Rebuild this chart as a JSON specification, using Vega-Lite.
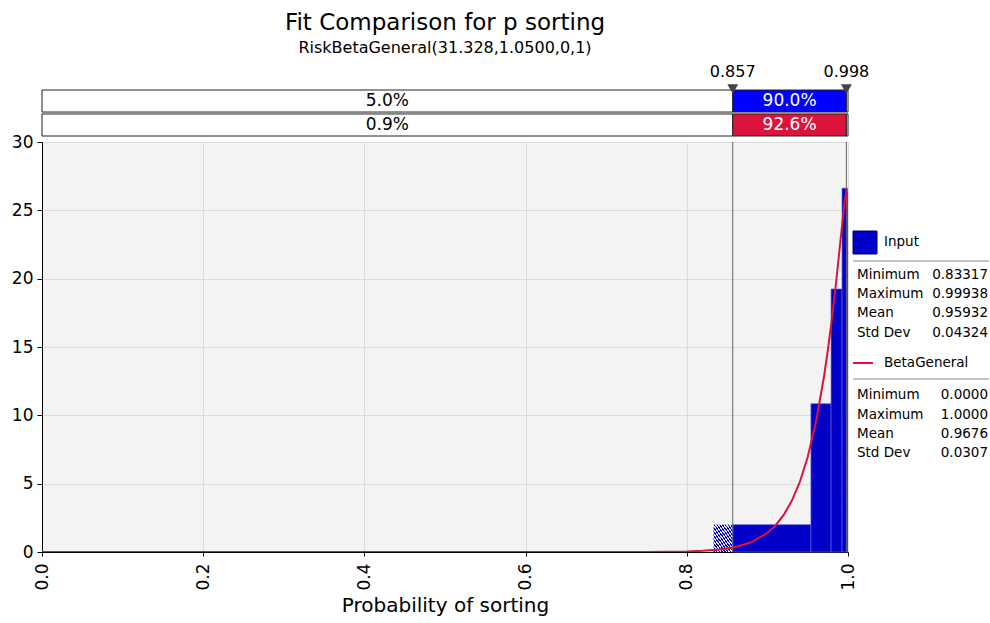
{
  "$schema": "https://vega.github.io/schema/vega-lite/v6.json",
  "background": "white",
  "padding": {"left": 11, "right": 0, "top": 12, "bottom": 0},
  "config": {
    "font": "DejaVu Sans",
    "view": {"stroke": null},
    "concat": {"spacing": 6}
  },
  "datasets": {
    "hist": [
      {"x0": 0.83317, "x1": 0.857, "h": 2.0, "kind": "hatch"},
      {"x0": 0.857, "x1": 0.954, "h": 2.0, "kind": "solid"},
      {"x0": 0.954, "x1": 0.979, "h": 10.85, "kind": "solid"},
      {"x0": 0.979, "x1": 0.9926, "h": 19.24, "kind": "solid"},
      {"x0": 0.9926, "x1": 0.99938, "h": 26.62, "kind": "solid"}
    ],
    "curve": [
      {"x": 0.0, "d": 0}, {"x": 0.1, "d": 0}, {"x": 0.2, "d": 0}, {"x": 0.3, "d": 0},
      {"x": 0.4, "d": 0}, {"x": 0.5, "d": 0}, {"x": 0.6, "d": 0.00001}, {"x": 0.7, "d": 0.0007},
      {"x": 0.75, "d": 0.0058}, {"x": 0.8, "d": 0.041}, {"x": 0.82, "d": 0.086}, {"x": 0.84, "d": 0.176},
      {"x": 0.86, "d": 0.358}, {"x": 0.88, "d": 0.713}, {"x": 0.9, "d": 1.396}, {"x": 0.91, "d": 1.942},
      {"x": 0.92, "d": 2.69}, {"x": 0.93, "d": 3.709}, {"x": 0.94, "d": 5.089}, {"x": 0.95, "d": 6.952},
      {"x": 0.96, "d": 9.443}, {"x": 0.97, "d": 12.748}, {"x": 0.975, "d": 14.763}, {"x": 0.98, "d": 17.05},
      {"x": 0.985, "d": 19.609}, {"x": 0.99, "d": 22.405}, {"x": 0.993, "d": 24.126}, {"x": 0.996, "d": 25.709},
      {"x": 0.998, "d": 26.389}, {"x": 0.999, "d": 26.28}, {"x": 0.9995, "d": 25.77}, {"x": 0.9999, "d": 24.07},
      {"x": 1.0, "d": 0}
    ],
    "marks": [
      {"v": 0.857, "row": "r1"},
      {"v": 0.998, "row": "r1"}
    ],
    "boxes": [
      {"row": "r1", "x0": 0, "x1": 0.857, "mid": 0.4285, "kind": "out", "label": "5.0%"},
      {"row": "r1", "x0": 0.857, "x1": 0.998, "mid": 0.9275, "kind": "input", "label": "90.0%"},
      {"row": "r1", "x0": 0.998, "x1": 1, "mid": 0.999, "kind": "out", "label": ""},
      {"row": "r2", "x0": 0, "x1": 0.857, "mid": 0.4285, "kind": "out", "label": "0.9%"},
      {"row": "r2", "x0": 0.857, "x1": 0.998, "mid": 0.9275, "kind": "fit", "label": "92.6%"},
      {"row": "r2", "x0": 0.998, "x1": 1, "mid": 0.999, "kind": "out", "label": ""}
    ],
    "stats": [
      {"line": 6.65, "label": "Minimum", "value": "0.83317"},
      {"line": 7.6, "label": "Maximum", "value": "0.99938"},
      {"line": 8.55, "label": "Mean", "value": "0.95932"},
      {"line": 9.55, "label": "Std Dev", "value": "0.04324"},
      {"line": 12.65, "label": "Minimum", "value": "0.0000"},
      {"line": 13.65, "label": "Maximum", "value": "1.0000"},
      {"line": 14.6, "label": "Mean", "value": "0.9676"},
      {"line": 15.55, "label": "Std Dev", "value": "0.0307"}
    ],
    "heads": [
      {"line": 5.0, "label": "Input"},
      {"line": 11.05, "label": "BetaGeneral"}
    ],
    "seps": [
      {"line": 5.95},
      {"line": 11.85}
    ]
  },
  "bounds": "flush",
  "vconcat": [
    {
      "title": {
        "text": "Fit Comparison for p sorting",
        "subtitle": "RiskBetaGeneral(31.328,1.0500,0,1)",
        "fontSize": 23,
        "fontWeight": "normal",
        "subtitleFontSize": 16,
        "color": "black",
        "subtitleColor": "black",
        "anchor": "middle",
        "offset": 8,
        "subtitlePadding": 5
      },
      "width": 806,
      "height": 46,
      "layer": [
        {
          "data": {"name": "boxes"},
          "mark": {"type": "rect", "stroke": "#222222", "strokeWidth": 1},
          "encoding": {
            "x": {"field": "x0", "type": "quantitative", "scale": {"domain": [0, 1], "nice": false}, "axis": null},
            "x2": {"field": "x1"},
            "y": {"field": "row", "type": "nominal", "scale": {"domain": ["r1", "r2"], "paddingInner": 0.08, "paddingOuter": 0}, "axis": null},
            "color": {"field": "kind", "type": "nominal", "scale": {"domain": ["out", "input", "fit"], "range": ["#ffffff", "#0000ff", "#dc143c"]}, "legend": null}
          }
        },
        {
          "data": {"name": "boxes"},
          "transform": [{"filter": "datum.kind == 'out'"}],
          "mark": {"type": "text", "fontSize": 17, "color": "black", "baseline": "middle"},
          "encoding": {
            "x": {"field": "mid", "type": "quantitative"},
            "y": {"field": "row", "type": "nominal"},
            "text": {"field": "label"}
          }
        },
        {
          "data": {"name": "boxes"},
          "transform": [{"filter": "datum.kind != 'out'"}],
          "mark": {"type": "text", "fontSize": 17, "color": "white", "baseline": "middle"},
          "encoding": {
            "x": {"field": "mid", "type": "quantitative"},
            "y": {"field": "row", "type": "nominal"},
            "text": {"field": "label"}
          }
        },
        {
          "data": {"name": "marks"},
          "mark": {"type": "point", "shape": "triangle-down", "filled": true, "color": "#444444", "size": 120, "opacity": 1, "yOffset": -1},
          "encoding": {
            "x": {"field": "v", "type": "quantitative"},
            "y": {"field": "row", "type": "nominal", "bandPosition": 0}
          }
        },
        {
          "data": {"name": "marks"},
          "mark": {"type": "text", "fontSize": 16, "color": "black", "baseline": "middle", "yOffset": -18},
          "encoding": {
            "x": {"field": "v", "type": "quantitative"},
            "y": {"field": "row", "type": "nominal", "bandPosition": 0},
            "text": {"field": "v", "type": "quantitative", "format": ".3f"}
          }
        }
      ]
    },
    {
      "bounds": "flush",
      "spacing": 5,
      "hconcat": [
        {
          "width": 806,
          "height": 410,
          "view": {"fill": "#f3f3f3", "stroke": null},
          "layer": [
            {
              "data": {"name": "hist"},
              "transform": [{"filter": "datum.kind == 'solid'"}],
              "mark": {"type": "rect", "fill": "#0000C8", "stroke": "#5a5ae0", "strokeWidth": 0.7},
              "encoding": {
                "x": {
                  "field": "x0", "type": "quantitative", "title": "Probability of sorting",
                  "scale": {"domain": [0, 1], "nice": false},
                  "axis": {
                    "values": [0, 0.2, 0.4, 0.6, 0.8, 1], "format": ".1f", "labelAngle": 270,
                    "labelFontSize": 17, "labelColor": "black", "labelPadding": 7, "tickSize": 4,
                    "tickColor": "black", "domainColor": "black", "grid": true, "gridColor": "#dcdcdc",
                    "titleFontSize": 20, "titleFontWeight": "normal", "titleColor": "black", "titlePadding": 5
                  }
                },
                "x2": {"field": "x1"},
                "y": {
                  "field": "h", "type": "quantitative", "title": null,
                  "scale": {"domain": [0, 30], "nice": false},
                  "axis": {
                    "values": [0, 5, 10, 15, 20, 25, 30], "labelFontSize": 17, "labelColor": "black",
                    "tickSize": 5, "labelPadding": 4, "tickColor": "black", "domainColor": "black",
                    "grid": true, "gridColor": "#dcdcdc", "title": null
                  }
                },
                "y2": {"datum": 0}
              }
            },
            {
              "data": {"name": "hist"},
              "transform": [{"filter": "datum.kind == 'hatch'"}],
              "mark": {
                "type": "rect",
                "fill": {
                  "gradient": "linear", "x1": 0, "y1": 1, "x2": 1, "y2": 0,
                  "stops": [
                    {"offset": 0, "color": "#0000C8"}, {"offset": 0.0357, "color": "#0000C8"}, {"offset": 0.0357, "color": "#e8e8ff"}, {"offset": 0.0714, "color": "#e8e8ff"},
                    {"offset": 0.0714, "color": "#0000C8"}, {"offset": 0.1071, "color": "#0000C8"}, {"offset": 0.1071, "color": "#e8e8ff"}, {"offset": 0.1429, "color": "#e8e8ff"},
                    {"offset": 0.1429, "color": "#0000C8"}, {"offset": 0.1786, "color": "#0000C8"}, {"offset": 0.1786, "color": "#e8e8ff"}, {"offset": 0.2143, "color": "#e8e8ff"},
                    {"offset": 0.2143, "color": "#0000C8"}, {"offset": 0.25, "color": "#0000C8"}, {"offset": 0.25, "color": "#e8e8ff"}, {"offset": 0.2857, "color": "#e8e8ff"},
                    {"offset": 0.2857, "color": "#0000C8"}, {"offset": 0.3214, "color": "#0000C8"}, {"offset": 0.3214, "color": "#e8e8ff"}, {"offset": 0.3571, "color": "#e8e8ff"},
                    {"offset": 0.3571, "color": "#0000C8"}, {"offset": 0.3929, "color": "#0000C8"}, {"offset": 0.3929, "color": "#e8e8ff"}, {"offset": 0.4286, "color": "#e8e8ff"},
                    {"offset": 0.4286, "color": "#0000C8"}, {"offset": 0.4643, "color": "#0000C8"}, {"offset": 0.4643, "color": "#e8e8ff"}, {"offset": 0.5, "color": "#e8e8ff"},
                    {"offset": 0.5, "color": "#0000C8"}, {"offset": 0.5357, "color": "#0000C8"}, {"offset": 0.5357, "color": "#e8e8ff"}, {"offset": 0.5714, "color": "#e8e8ff"},
                    {"offset": 0.5714, "color": "#0000C8"}, {"offset": 0.6071, "color": "#0000C8"}, {"offset": 0.6071, "color": "#e8e8ff"}, {"offset": 0.6429, "color": "#e8e8ff"},
                    {"offset": 0.6429, "color": "#0000C8"}, {"offset": 0.6786, "color": "#0000C8"}, {"offset": 0.6786, "color": "#e8e8ff"}, {"offset": 0.7143, "color": "#e8e8ff"},
                    {"offset": 0.7143, "color": "#0000C8"}, {"offset": 0.75, "color": "#0000C8"}, {"offset": 0.75, "color": "#e8e8ff"}, {"offset": 0.7857, "color": "#e8e8ff"},
                    {"offset": 0.7857, "color": "#0000C8"}, {"offset": 0.8214, "color": "#0000C8"}, {"offset": 0.8214, "color": "#e8e8ff"}, {"offset": 0.8571, "color": "#e8e8ff"},
                    {"offset": 0.8571, "color": "#0000C8"}, {"offset": 0.8929, "color": "#0000C8"}, {"offset": 0.8929, "color": "#e8e8ff"}, {"offset": 0.9286, "color": "#e8e8ff"},
                    {"offset": 0.9286, "color": "#0000C8"}, {"offset": 0.9643, "color": "#0000C8"}, {"offset": 0.9643, "color": "#e8e8ff"}, {"offset": 1, "color": "#e8e8ff"}
                  ]
                }
              },
              "encoding": {
                "x": {"field": "x0", "type": "quantitative", "title": "Probability of sorting"},
                "x2": {"field": "x1"},
                "y": {"field": "h", "type": "quantitative", "title": null},
                "y2": {"datum": 0}
              }
            },
            {
              "data": {"name": "marks"},
              "mark": {"type": "rule", "color": "#666666", "strokeWidth": 1},
              "encoding": {
                "x": {"field": "v", "type": "quantitative", "title": "Probability of sorting"}
              }
            },
            {
              "data": {"name": "curve"},
              "mark": {"type": "line", "color": "#dc143c", "strokeWidth": 2, "clip": true},
              "encoding": {
                "x": {"field": "x", "type": "quantitative", "title": "Probability of sorting"},
                "y": {"field": "d", "type": "quantitative", "title": null}
              }
            }
          ]
        },
        {
          "width": 138,
          "height": 410,
          "view": {"fill": "white", "stroke": null},
          "layer": [
            {
              "data": {"values": [{}]},
              "mark": {"type": "rect", "fill": "#0000C8", "stroke": "#000050", "strokeWidth": 1},
              "encoding": {
                "x": {"datum": 0, "type": "quantitative", "scale": {"domain": [0, 138], "nice": false, "zero": false}, "axis": null},
                "x2": {"datum": 24},
                "y": {"datum": 4.45, "type": "quantitative", "scale": {"domain": [0, 20.5], "nice": false, "zero": false, "reverse": true}, "axis": null},
                "y2": {"datum": 5.6}
              }
            },
            {
              "data": {"values": [{}]},
              "mark": {"type": "rule", "color": "#dc143c", "strokeWidth": 2},
              "encoding": {
                "x": {"datum": 0, "type": "quantitative"},
                "x2": {"datum": 20},
                "y": {"datum": 11.05, "type": "quantitative"}
              }
            },
            {
              "data": {"name": "seps"},
              "mark": {"type": "rule", "color": "#888888", "strokeWidth": 1},
              "encoding": {
                "x": {"datum": 0, "type": "quantitative"},
                "x2": {"datum": 136},
                "y": {"field": "line", "type": "quantitative"}
              }
            },
            {
              "data": {"name": "heads"},
              "mark": {"type": "text", "fontSize": 13.5, "color": "black", "align": "left", "baseline": "middle"},
              "encoding": {
                "x": {"datum": 31, "type": "quantitative"},
                "y": {"field": "line", "type": "quantitative"},
                "text": {"field": "label"}
              }
            },
            {
              "data": {"name": "stats"},
              "mark": {"type": "text", "fontSize": 13.5, "color": "black", "align": "left", "baseline": "middle"},
              "encoding": {
                "x": {"datum": 4, "type": "quantitative"},
                "y": {"field": "line", "type": "quantitative"},
                "text": {"field": "label"}
              }
            },
            {
              "data": {"name": "stats"},
              "mark": {"type": "text", "fontSize": 13.5, "color": "black", "align": "right", "baseline": "middle"},
              "encoding": {
                "x": {"datum": 135, "type": "quantitative"},
                "y": {"field": "line", "type": "quantitative"},
                "text": {"field": "value"}
              }
            }
          ]
        }
      ]
    }
  ]
}
